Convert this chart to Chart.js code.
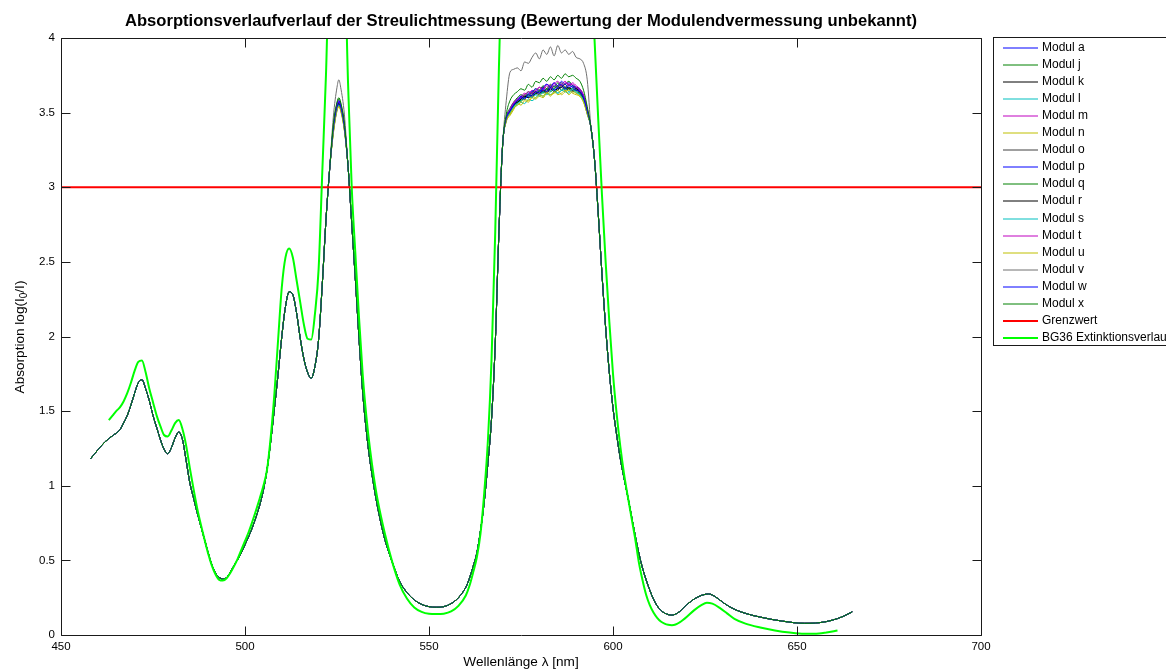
<!DOCTYPE html>
<html>
<head>
<meta charset="utf-8">
<script src="https://cdn.jsdelivr.net/npm/chart.js@4/dist/chart.umd.min.js"></script>
<style>
  html, body { margin: 0; padding: 0; background: #fff; overflow: hidden; }
  #wrap { width: 1166px; height: 670px; position: relative; }
</style>
</head>
<body>
<div id="wrap"><canvas id="chart" width="1166" height="670"></canvas></div>
<script>
// ---- Data -------------------------------------------------------------

// Shared course of all module curves outside the two saturated bands
const baseWavelengths = [
  458, 460, 462, 464, 466, 467, 468, 469, 470, 471, 472, 473, 474, 475, 476, 477, 478, 479,
  480, 481, 482, 483, 484, 485, 486, 487, 488, 489, 490, 491, 492, 493, 494, 495, 496, 497,
  498, 499, 500, 501, 502, 503, 504, 505, 506, 507, 508, 509, 510, 511, 512, 513, 514, 515,
  516, 517, 518, 519, 520, 521, 522, 523,
  528, 529, 530, 531, 532, 533, 534, 535, 536, 538, 540, 542, 544, 546, 548, 550, 552, 554,
  556, 558, 560, 561, 562, 563, 564, 565, 566, 567, 568, 569, 570,
  594, 595, 596, 597, 598, 599, 600, 601, 602, 603, 604, 605, 606, 607, 608, 609, 610, 611,
  612, 613, 614, 615, 616, 617, 618, 619, 620, 621, 622, 623, 624, 625, 626, 627, 628, 629,
  630, 632, 634, 636, 638, 640, 643, 646, 649, 652, 655, 658, 661, 663, 665
];
const baseAbsorption = [
  1.18, 1.24, 1.295, 1.335, 1.375, 1.42, 1.47, 1.54, 1.62, 1.69, 1.71, 1.65, 1.57, 1.47, 1.39, 1.31, 1.245, 1.215,
  1.255, 1.32, 1.36, 1.31, 1.17, 1.02, 0.92, 0.82, 0.73, 0.64, 0.55, 0.47, 0.415, 0.385, 0.375, 0.385, 0.42, 0.465,
  0.505, 0.55, 0.605, 0.66, 0.72, 0.79, 0.87, 0.97, 1.11, 1.30, 1.52, 1.75, 2.00, 2.20, 2.30, 2.28, 2.16, 1.99,
  1.85, 1.76, 1.72, 1.80, 1.98, 2.35, 2.78, 3.12,
  3.14, 2.76, 2.38, 1.98, 1.62, 1.36, 1.16, 1.00, 0.86, 0.64, 0.49, 0.36, 0.285, 0.235, 0.205, 0.19, 0.186, 0.19,
  0.21, 0.25, 0.32, 0.38, 0.46, 0.55, 0.70, 0.89, 1.15, 1.45, 1.95, 2.70, 3.28,
  3.40, 3.18, 2.82, 2.42, 2.06, 1.76, 1.52, 1.34, 1.18, 1.05, 0.93, 0.80, 0.67, 0.55, 0.45, 0.37, 0.30, 0.24,
  0.195, 0.165, 0.147, 0.137, 0.133, 0.14, 0.155, 0.178, 0.202, 0.222, 0.24, 0.254, 0.265, 0.272, 0.275, 0.268, 0.253, 0.235,
  0.216, 0.185, 0.162, 0.145, 0.131, 0.12, 0.105, 0.093, 0.083, 0.078, 0.08, 0.09, 0.11, 0.13, 0.155
];

// Individual module readings in the first peak and the plateau
const peakWavelengths = [524, 525, 525.5, 526, 527];
const plateauWavelengths = [571, 572, 573, 574, 575, 576, 577, 578, 579, 580, 581, 582,
                            583, 584, 585, 586, 587, 588, 589, 590, 591, 592, 593];

const moduleNames = ['Modul a', 'Modul j', 'Modul k', 'Modul l', 'Modul m', 'Modul n', 'Modul o', 'Modul p',
                     'Modul q', 'Modul r', 'Modul s', 'Modul t', 'Modul u', 'Modul v', 'Modul w', 'Modul x'];

const modulePeaks = [
  [3.39, 3.54, 3.57, 3.54, 3.41],
  [3.41, 3.56, 3.59, 3.56, 3.42],
  [3.37, 3.52, 3.55, 3.52, 3.39],
  [3.38, 3.53, 3.56, 3.53, 3.40],
  [3.40, 3.55, 3.58, 3.55, 3.41],
  [3.36, 3.51, 3.54, 3.51, 3.38],
  [3.39, 3.54, 3.56, 3.54, 3.40],
  [3.40, 3.56, 3.58, 3.55, 3.42],
  [3.38, 3.53, 3.56, 3.53, 3.40],
  [3.38, 3.54, 3.56, 3.53, 3.40],
  [3.37, 3.52, 3.55, 3.53, 3.39],
  [3.39, 3.55, 3.57, 3.54, 3.41],
  [3.36, 3.52, 3.54, 3.52, 3.38],
  [3.47, 3.67, 3.72, 3.67, 3.49],
  [3.39, 3.54, 3.57, 3.54, 3.40],
  [3.42, 3.57, 3.60, 3.57, 3.43]
];

const modulePlateaus = [
  [3.46, 3.51, 3.55, 3.58, 3.59, 3.61, 3.60, 3.63, 3.62, 3.65, 3.64, 3.66, 3.65, 3.68, 3.66, 3.67, 3.69, 3.66, 3.68, 3.66, 3.65, 3.60, 3.51],
  [3.47, 3.53, 3.57, 3.60, 3.62, 3.61, 3.64, 3.63, 3.66, 3.65, 3.68, 3.66, 3.69, 3.67, 3.70, 3.68, 3.69, 3.71, 3.68, 3.67, 3.66, 3.61, 3.52],
  [3.45, 3.50, 3.55, 3.57, 3.58, 3.60, 3.61, 3.60, 3.63, 3.62, 3.64, 3.63, 3.66, 3.64, 3.65, 3.67, 3.65, 3.66, 3.64, 3.65, 3.63, 3.59, 3.50],
  [3.45, 3.49, 3.53, 3.55, 3.57, 3.56, 3.59, 3.58, 3.60, 3.62, 3.61, 3.63, 3.62, 3.64, 3.63, 3.65, 3.64, 3.63, 3.65, 3.63, 3.62, 3.58, 3.49],
  [3.46, 3.52, 3.57, 3.59, 3.61, 3.63, 3.62, 3.65, 3.64, 3.67, 3.66, 3.69, 3.68, 3.70, 3.67, 3.69, 3.71, 3.68, 3.70, 3.68, 3.66, 3.62, 3.53],
  [3.44, 3.48, 3.52, 3.56, 3.55, 3.58, 3.57, 3.60, 3.59, 3.61, 3.60, 3.63, 3.61, 3.64, 3.62, 3.63, 3.65, 3.62, 3.64, 3.63, 3.61, 3.57, 3.49],
  [3.46, 3.51, 3.56, 3.58, 3.60, 3.62, 3.61, 3.64, 3.63, 3.65, 3.67, 3.65, 3.68, 3.66, 3.68, 3.70, 3.67, 3.69, 3.67, 3.66, 3.64, 3.60, 3.51],
  [3.46, 3.52, 3.56, 3.59, 3.61, 3.60, 3.63, 3.64, 3.66, 3.64, 3.67, 3.69, 3.67, 3.70, 3.68, 3.71, 3.69, 3.70, 3.68, 3.67, 3.65, 3.61, 3.52],
  [3.45, 3.50, 3.54, 3.57, 3.58, 3.60, 3.62, 3.61, 3.63, 3.64, 3.63, 3.66, 3.64, 3.66, 3.68, 3.65, 3.67, 3.66, 3.66, 3.64, 3.63, 3.59, 3.50],
  [3.46, 3.51, 3.55, 3.57, 3.59, 3.61, 3.60, 3.62, 3.64, 3.63, 3.65, 3.64, 3.67, 3.65, 3.66, 3.68, 3.66, 3.67, 3.65, 3.66, 3.64, 3.60, 3.51],
  [3.45, 3.50, 3.54, 3.56, 3.58, 3.59, 3.61, 3.60, 3.62, 3.61, 3.64, 3.62, 3.64, 3.66, 3.63, 3.65, 3.66, 3.64, 3.66, 3.64, 3.62, 3.58, 3.50],
  [3.46, 3.52, 3.56, 3.59, 3.60, 3.62, 3.64, 3.63, 3.65, 3.67, 3.65, 3.68, 3.66, 3.69, 3.71, 3.68, 3.70, 3.69, 3.69, 3.67, 3.65, 3.61, 3.52],
  [3.44, 3.49, 3.53, 3.55, 3.57, 3.59, 3.58, 3.61, 3.60, 3.62, 3.61, 3.64, 3.62, 3.63, 3.65, 3.62, 3.64, 3.65, 3.63, 3.62, 3.61, 3.57, 3.49],
  [3.58, 3.77, 3.79, 3.80, 3.78, 3.84, 3.83, 3.87, 3.90, 3.86, 3.92, 3.89, 3.94, 3.88, 3.95, 3.90, 3.92, 3.89, 3.91, 3.87, 3.86, 3.83, 3.72],
  [3.46, 3.51, 3.55, 3.58, 3.60, 3.59, 3.62, 3.61, 3.64, 3.63, 3.66, 3.64, 3.67, 3.65, 3.67, 3.69, 3.66, 3.68, 3.67, 3.65, 3.64, 3.60, 3.51],
  [3.49, 3.58, 3.62, 3.64, 3.66, 3.65, 3.69, 3.67, 3.71, 3.70, 3.73, 3.71, 3.74, 3.72, 3.75, 3.73, 3.76, 3.74, 3.75, 3.73, 3.71, 3.65, 3.54]
];

// Limit value
const grenzWavelengths = [450, 700];
const grenzAbsorption = [3, 3];

// BG36 extinction course (values above 4 leave the plotted range)
const bg36Wavelengths = [
  463, 464, 465, 466, 467, 468, 469, 470, 471, 472, 473, 474, 475, 476, 477, 478, 479, 480,
  481, 482, 483, 484, 485, 486, 487, 488, 489, 490, 491, 492, 493, 494, 495, 496, 497, 498,
  499, 500, 501, 502, 503, 504, 505, 506, 507, 508, 509, 510, 511, 512, 513, 514, 515, 516,
  517, 518, 519, 520, 521, 522, 523, 527, 528, 529, 530, 531, 532, 533, 534, 535, 536, 538,
  540, 542, 544, 546, 548, 550, 552, 554, 556, 558, 560, 561, 562, 563, 564, 565, 566, 567,
  568, 569, 570, 594, 595, 596, 597, 598, 599, 600, 601, 602, 603, 604, 605, 606, 607, 608,
  609, 610, 611, 612, 613, 614, 615, 616, 617, 618, 619, 620, 622, 624, 625.5, 627, 629, 631,
  633, 636, 640, 644, 648, 652, 656, 658, 661
];
const bg36Absorption = [
  1.44, 1.47, 1.50, 1.525, 1.565, 1.62, 1.69, 1.77, 1.83, 1.84, 1.76, 1.65, 1.56, 1.47, 1.40, 1.34, 1.33, 1.37,
  1.42, 1.44, 1.38, 1.27, 1.12, 0.98, 0.85, 0.74, 0.64, 0.545, 0.465, 0.405, 0.37, 0.365, 0.38, 0.415, 0.46, 0.51,
  0.57, 0.63, 0.69, 0.76, 0.835, 0.915, 1.0, 1.11, 1.33, 1.62, 1.98, 2.33, 2.53, 2.59, 2.53, 2.38, 2.23, 2.08,
  1.985, 1.98, 2.15, 2.45, 3.10, 3.75, 4.5, 4.5, 3.7, 3.0, 2.55, 2.12, 1.74, 1.46, 1.24, 1.06, 0.91, 0.68,
  0.49, 0.34, 0.245, 0.185, 0.155, 0.142, 0.14, 0.143, 0.158, 0.195, 0.265, 0.33, 0.42, 0.52, 0.68, 0.95, 1.30, 1.85,
  2.70, 3.80, 4.5, 4.5, 3.98, 3.45, 2.95, 2.50, 2.10, 1.75, 1.48, 1.26, 1.08, 0.93, 0.79, 0.65, 0.49, 0.37,
  0.27, 0.20, 0.15, 0.115, 0.09, 0.076, 0.068, 0.066, 0.07, 0.083, 0.10, 0.12, 0.165, 0.20, 0.216, 0.21, 0.182, 0.145,
  0.108, 0.076, 0.05, 0.03, 0.016, 0.008, 0.01, 0.017, 0.03
];

// Axis ticks
const xTickValues = [450, 500, 550, 600, 650, 700];
const yTickValues = [0, 0.5, 1, 1.5, 2, 2.5, 3, 3.5, 4];

// ---- Styling ----------------------------------------------------------
const moduleColors = ['#0000ff', '#008000', '#000000', '#00bfbf', '#bf00bf', '#bfbf00', '#404040', '#0000ff',
                      '#008000', '#000000', '#00bfbf', '#bf00bf', '#bfbf00', '#707070', '#0000ff', '#008000'];
const FONT = '"Liberation Sans", Arial, Helvetica, sans-serif';

// ---- Series assembly --------------------------------------------------
function zipPoints(xs, ys) {
  return xs.map((x, i) => ({ x: x, y: ys[i] }));
}

function moduleSeries(idx) {
  const pts = zipPoints(baseWavelengths, baseAbsorption)
    .concat(zipPoints(peakWavelengths, modulePeaks[idx]))
    .concat(zipPoints(plateauWavelengths, modulePlateaus[idx]));
  pts.sort((a, b) => a.x - b.x);
  return pts;
}

const datasets = moduleNames.map((name, i) => ({
  label: name,
  data: moduleSeries(i),
  borderColor: moduleColors[i],
  borderWidth: 1,
  legendWidth: 1,
  order: 2 + (moduleNames.length - 1 - i)
}));
datasets.push({
  label: 'Grenzwert',
  data: zipPoints(grenzWavelengths, grenzAbsorption),
  borderColor: '#ff0000',
  borderWidth: 2,
  legendWidth: 2,
  order: 1
});
datasets.push({
  label: 'BG36 Extinktionsverlauf',
  data: zipPoints(bg36Wavelengths, bg36Absorption),
  borderColor: '#00ff00',
  borderWidth: 2,
  legendWidth: 2,
  order: 0
});

// ---- Decorations: frame, inward ticks, title, axis label, legend ------
const decorations = {
  id: 'decorations',
  afterDatasetsDraw(chart) {
    const ctx = chart.ctx;
    const a = chart.chartArea;
    const xs = chart.scales.x, ys = chart.scales.y;
    const L = Math.round(a.left) + 0.5, R = Math.round(a.right) + 0.5;
    const T = Math.round(a.top) + 0.5, B = Math.round(a.bottom) + 0.5;
    const tick = 9;
    ctx.save();
    ctx.strokeStyle = '#1a1a1a';
    ctx.lineWidth = 1;
    ctx.beginPath();
    ctx.rect(L, T, R - L, B - T);
    xTickValues.forEach(v => {
      const px = Math.round(xs.getPixelForValue(v)) + 0.5;
      ctx.moveTo(px, B); ctx.lineTo(px, B - tick);
      ctx.moveTo(px, T); ctx.lineTo(px, T + tick);
    });
    yTickValues.forEach(v => {
      const py = Math.round(ys.getPixelForValue(v)) + 0.5;
      ctx.moveTo(L, py); ctx.lineTo(L + tick, py);
      ctx.moveTo(R, py); ctx.lineTo(R - tick, py);
    });
    ctx.stroke();

    // Title
    ctx.fillStyle = '#000';
    ctx.font = 'bold 16.6px ' + FONT;
    ctx.textAlign = 'center';
    ctx.textBaseline = 'middle';
    ctx.fillText('Absorptionsverlaufverlauf der Streulichtmessung (Bewertung der Modulendvermessung unbekannt)',
                 (a.left + a.right) / 2, 21);

    // X axis label
    ctx.font = '13.6px ' + FONT;
    ctx.fillText('Wellenlänge λ [nm]', (a.left + a.right) / 2, 662);

    // Y axis label with subscript
    ctx.save();
    ctx.translate(20, 337);
    ctx.rotate(-Math.PI / 2);
    ctx.textAlign = 'left';
    ctx.textBaseline = 'middle';
    const parts = [
      { t: 'Absorption log(I', size: 13.6, dy: 0 },
      { t: '0', size: 10, dy: 4 },
      { t: '/I)', size: 13.6, dy: 0 }
    ];
    let total = 0;
    parts.forEach(p => { ctx.font = p.size + 'px ' + FONT; p.w = ctx.measureText(p.t).width; total += p.w; });
    let cx = -total / 2;
    parts.forEach(p => { ctx.font = p.size + 'px ' + FONT; ctx.fillText(p.t, cx, p.dy); cx += p.w; });
    ctx.restore();

    // Legend
    const lx = 993.5, ly = 37.5, lh = 308;
    ctx.fillStyle = '#fff';
    ctx.fillRect(lx, ly, 200, lh);
    ctx.strokeStyle = '#1a1a1a';
    ctx.lineWidth = 1;
    ctx.strokeRect(lx, ly, 200, lh);
    ctx.font = '12px ' + FONT;
    ctx.textAlign = 'left';
    ctx.textBaseline = 'middle';
    chart.data.datasets.forEach((ds, i) => {
      const yy = Math.round(48 + i * 17.05);
      ctx.strokeStyle = ds.borderColor;
      ctx.lineWidth = ds.legendWidth;
      ctx.beginPath();
      ctx.moveTo(1003, yy); ctx.lineTo(1038, yy);
      ctx.stroke();
      ctx.fillStyle = '#000';
      ctx.fillText(ds.label, 1042, yy);
    });
    ctx.restore();
  }
};

new Chart(document.getElementById('chart'), {
  type: 'line',
  data: { datasets: datasets },
  options: {
    responsive: false,
    animation: false,
    devicePixelRatio: 1,
    layout: { padding: { left: 0, right: 185, top: 38, bottom: 0 } },
    elements: {
      point: { radius: 0, hoverRadius: 0 },
      line: { tension: 0, cubicInterpolationMode: 'monotone', fill: false }
    },
    datasets: { line: { clip: 0, spanGaps: true } },
    plugins: { legend: { display: false }, title: { display: false }, tooltip: { enabled: false } },
    scales: {
      x: {
        type: 'linear', min: 450, max: 700,
        grid: { display: false, tickLength: 0 }, border: { display: false },
        afterBuildTicks: s => { s.ticks = xTickValues.map(v => ({ value: v })); },
        afterFit: s => { s.height = 35; },
        ticks: { color: '#000', font: { family: FONT, size: 11.5 }, padding: 5, maxRotation: 0,
                 callback: v => String(v) }
      },
      y: {
        type: 'linear', min: 0, max: 4,
        grid: { display: false, tickLength: 0 }, border: { display: false },
        afterBuildTicks: s => { s.ticks = yTickValues.map(v => ({ value: v })); },
        afterFit: s => { s.width = 61; },
        ticks: { color: '#000', font: { family: FONT, size: 11.5 }, padding: 6,
                 callback: v => String(v) }
      }
    }
  },
  plugins: [decorations]
});
</script>
</body>
</html>
